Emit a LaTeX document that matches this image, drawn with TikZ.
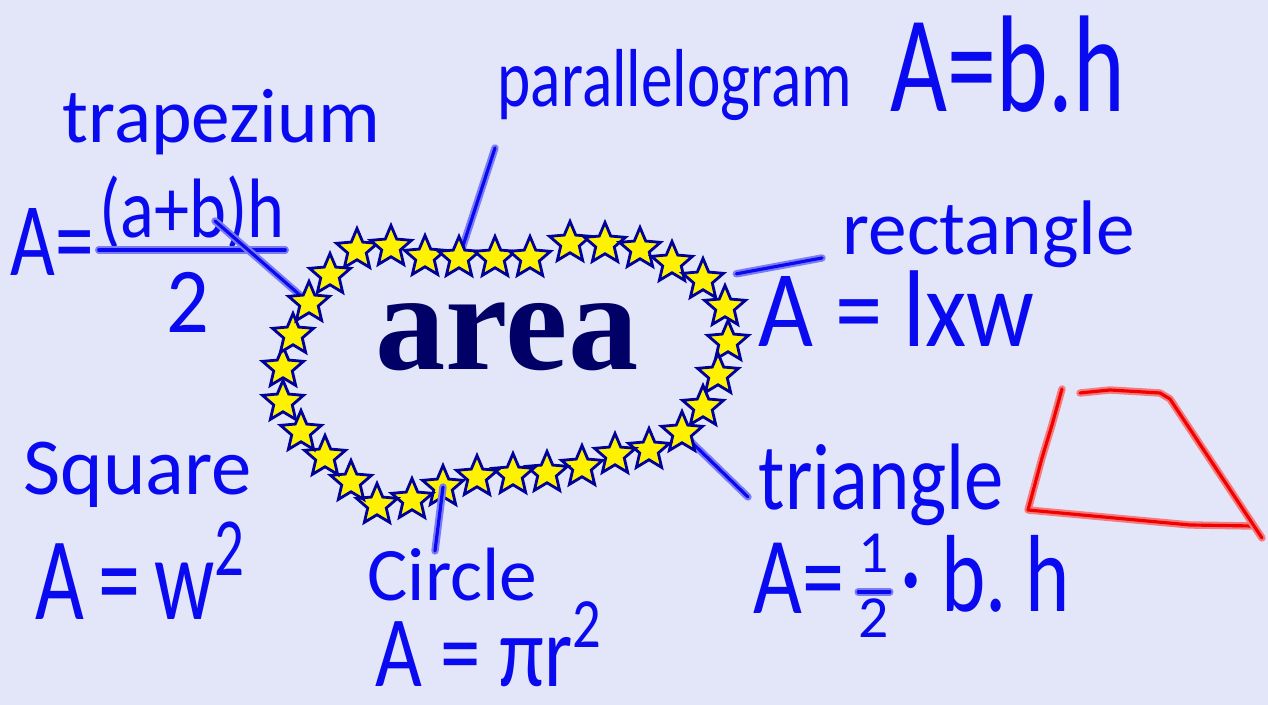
\documentclass[tikz,border=0pt]{standalone}
\usepackage{graphicx}
\usepackage{fontspec}
\setmainfont{Carlito}
\newfontfamily\areafont{Liberation Serif}
\usetikzlibrary{shapes.geometric,calc}

\definecolor{paper}{HTML}{E3E5F8}
\definecolor{ink}{HTML}{0A0AF0}
\definecolor{inkhalo}{HTML}{7C7CF4}
\definecolor{redcore}{HTML}{F00000}
\definecolor{redhalo}{HTML}{F47C7C}
\definecolor{starline}{HTML}{00009A}
\definecolor{areablue}{HTML}{000066}

% handwriting is taller than the font
\newcommand{\tall}[2][1.3]{\scalebox{1}[#1]{#2}}

\begin{document}
\begin{tikzpicture}[
  x=0.1mm, y=-0.1mm,
  ink/.style={draw=inkhalo, line width=0.6pt, double=ink, double distance=0.9pt,
              line cap=round, line join=round},
  redline/.style={draw=redhalo, line width=0.6pt, double=redcore, double distance=0.9pt,
                  line cap=round, line join=round},
  hand/.style={text=ink, inner sep=0pt, font=\fontsize{#1}{#1}\selectfont},
  starbox/.style={star, star points=5, star point ratio=2.2, minimum size=4.3mm,
                  inner sep=0pt, fill=yellow, draw=starline, line width=0.8pt},
]

\fill[paper] (0,0) rectangle (1268,705);
\useasboundingbox (0,0) rectangle (1268,705);

%% ── ring of stars ─────────────────────────────────────────────────
\foreach \x/\y [count=\i] in {357/250, 391/247, 425/257, 459/258, 495/258, 530/258,
    570/243, 605/244, 640/249, 672/263, 703/280, 725/307, 728/342, 718/375,
    703/407, 682/433, 649/450, 615/455, 582/467, 547/473, 513/475, 477/477,
    443/487, 412/500, 377/505, 351/482, 325/457, 301/432, 283/402, 283/368,
    293/335, 309/303, 330/275}
  \coordinate (s\i) at (\x,\y);

%% ── trapezium (top left) ──────────────────────────────────────────
\node[hand=22, anchor=base west] (trap) at (62,143) {trapezium};
\node[hand=22, anchor=base west] (trapA) at (10,276) {\tall[1.35]{A=}};
\node[hand=20, anchor=south] (trapnum) at (192,250) {\tall[1.2]{(a+b)h}};
\node[hand=24, anchor=north] (trapden) at (188,272) {\tall[1.1]{2}};
\draw[ink] (trapnum.south west) -- (trapnum.south east);
\coordinate (tz) at (215,221);
\draw[ink] (tz) -- (s32);

%% ── parallelogram (top) ───────────────────────────────────────────
\node[hand=18, anchor=base west] (para) at (497,107) {\tall{parallelogram}};
\node[hand=28, anchor=base west] (paraA) at (890,112) {\tall[1.4]{A=b.h}};
\coordinate (pg) at (495,148);
\draw[ink] (pg) -- (s4);

%% ── rectangle (right) ─────────────────────────────────────────────
\node[hand=22, anchor=base west] (rect) at (842,255) {rectangle};
\node[hand=27, anchor=base west] (rectA) at (758,347) {\tall[1.15]{A = lxw}};
\coordinate (rc) at (822,258);
\draw[ink] (rc) -- ($(s11)!0.28!(rc)$);

%% ── square (left) ─────────────────────────────────────────────────
\node[hand=23, anchor=base west] (sq) at (23,495) {Square};
\node[hand=24, anchor=base west] (sqA) at (35,620) {\tall[1.4]{A\,=\,w\textsuperscript{2}}};

%% ── triangle (bottom right) ───────────────────────────────────────
\node[hand=22.4, anchor=base west] (tri) at (758,510) {\tall[1.2]{triangle}};
\node[hand=24, anchor=base west] (triA) at (753,614) {\tall{A=}};
\node[hand=17] (trifrac) at (874,592)
  {\renewcommand{\arraystretch}{1.1}\begin{tabular}{@{}c@{}}1\\2\end{tabular}};
\draw[ink] (trifrac.west) -- (trifrac.east);
\node[hand=24, anchor=base west] (trirest) at (900,612) {\tall{·\ b.\ h}};
\coordinate (tc) at (748,497);
\draw[ink] (s16) -- (tc);

%% ── stars on top of the connectors ────────────────────────────────
\foreach \i in {1,...,33}
  \node[starbox] (star\i) at (s\i) {};

\node[font=\areafont\bfseries\fontsize{40}{40}\selectfont, text=areablue,
      anchor=base, inner sep=0pt] (area) at (507,370) {area};

%% ── circle (bottom) ───────────────────────────────────────────────
\node[hand=21.5, anchor=base west] (circ) at (367,601) {Circle};
\node[hand=23, anchor=base west] (circA) at (375,687) {\tall[1.25]{A = πr\textsuperscript{2}}};
\coordinate (cc) at (435,551);
\draw[ink] (s23) -- (cc);

%% ── red sketch of a trapezium ─────────────────────────────────────
\draw[redline] (1062,389) -- (1052,425) -- (1042,458) -- (1028,510)
  -- (1190,525) -- (1252,526);
\draw[redline] (1080,393) -- (1110,390) -- (1160,393) -- (1170,399) -- (1262,538);

\end{tikzpicture}
\end{document}
